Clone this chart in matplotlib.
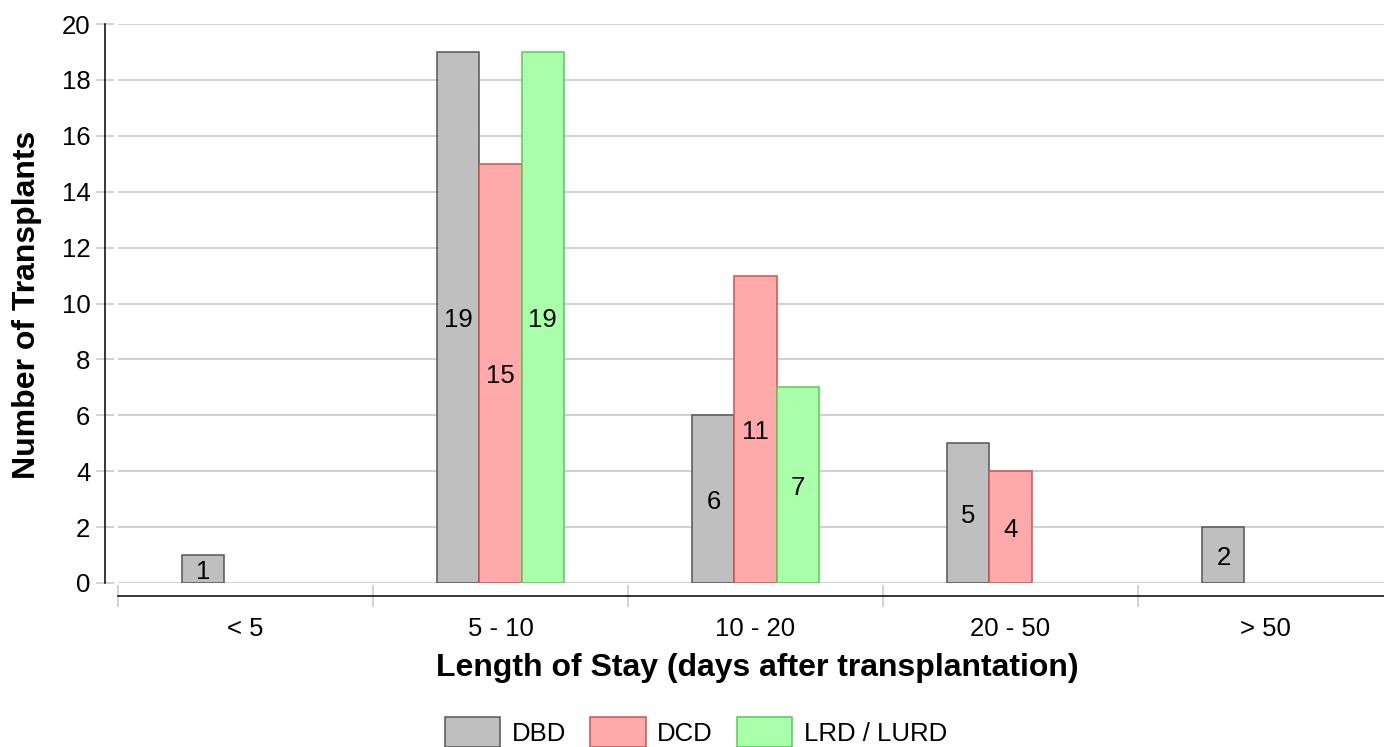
import numpy as np
import matplotlib
matplotlib.use("Agg")
import matplotlib.pyplot as plt

plt.rcParams['font.family'] = ['Liberation Sans', 'DejaVu Sans']

# data
categories = ["< 5", "5 - 10", "10 - 20", "20 - 50", "> 50"]
dbd = [1, 19, 6, 5, 2]
dcd = [0, 15, 11, 4, 0]
lrd = [0, 19, 7, 0, 0]
series_names = ["DBD", "DCD", "LRD / LURD"]

fills = ["#bfbfbf", "#ffaaaa", "#aaffaa"]
edges = ["#555555", "#cc5555", "#55cc55"]

W, H = 1384, 747
fig = plt.figure(figsize=(W / 100, H / 100), dpi=100)
ax = fig.add_axes([118 / W, 1 - 583 / H, 1 - 118 / W, (583 - 24) / H])

x = np.arange(len(categories))
width = 0.165
handles = []
for k, (vals, name) in enumerate(zip([dbd, dcd, lrd], series_names)):
    vals = np.array(vals)
    keep = vals > 0
    xs = x[keep] + (k - 1) * width
    bars = ax.bar(xs, vals[keep], width=width, color=fills[k], edgecolor=edges[k],
                  linewidth=1.1, label=name, zorder=3)
    handles.append(bars)
    for xi, v in zip(xs, vals[keep]):
        ax.text(xi, v / 2, str(v), ha="center", va="center_baseline", fontsize=18.5, zorder=4)

ax.set_xlim(-0.5, (W - 118) / 255 - 0.5)
ax.set_ylim(0, 20)
ax.set_yticks(np.arange(0, 21, 2))

# category boundaries as major ticks, labels at centers
ax.set_xticks(np.arange(-0.5, len(categories) - 0.5, 1))
ax.set_xticklabels([])
ax.set_xticks(x, minor=True)
ax.set_xticklabels(categories, minor=True)
ax.tick_params(axis="x", which="major", direction="inout", length=16, width=1.1, color="#c8c8c8")
ax.tick_params(axis="x", which="minor", length=0, pad=15, labelsize=18.5)
ax.tick_params(axis="y", direction="inout", length=13, width=1.1, color="#c8c8c8",
               labelsize=18.5, pad=4)

ax.grid(axis="y", color="#c8c8c8", linewidth=1.2, zorder=0)
ax.set_axisbelow(True)

for side in ["top", "right"]:
    ax.spines[side].set_visible(False)
ax.spines["left"].set_position(("outward", 9.4))
ax.spines["bottom"].set_position(("outward", 9.4))
ax.spines["left"].set_linewidth(1.1)
ax.spines["bottom"].set_linewidth(1.1)

ax.set_xlabel("Length of Stay (days after transplantation)", fontsize=23, fontweight="bold")
ax.xaxis.label.set_va("center")
ax.xaxis.set_label_coords((757 - 118) / 1266, (583 - 668) / 559)
ax.set_ylabel("Number of Transplants", fontsize=23, fontweight="bold")
ax.yaxis.label.set_va("center")
ax.yaxis.set_label_coords((27 - 118) / 1266, (583 - 305) / 559)

fig.legend(handles=handles, labels=series_names, loc="center", ncol=3,
           bbox_to_anchor=(696 / W, 1 - 732 / H), frameon=False, fontsize=18.5,
           handlelength=2.15, handleheight=1.4, handletextpad=0.45,
           columnspacing=0.95, borderpad=0)

fig.savefig("out.png", dpi=100)
